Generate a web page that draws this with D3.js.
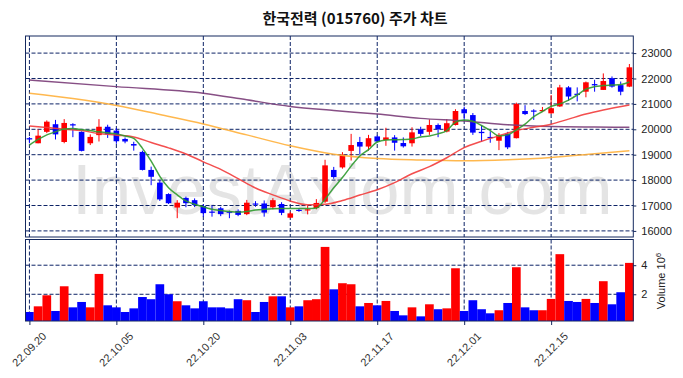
<!DOCTYPE html>
<html>
<head>
<meta charset="utf-8">
<script src="https://cdn.jsdelivr.net/npm/d3@7/dist/d3.min.js"></script>
<style>
body { margin: 0; background: #fff; }
text { font-family: "Liberation Sans", Arial, sans-serif; }
</style>
</head>
<body>
<div id="chart"></div>
<script>
// trading days shown (YY.MM.DD)
const dates = [
  "22.09.20","22.09.21","22.09.22","22.09.23","22.09.26","22.09.27","22.09.28","22.09.29","22.09.30",
  "22.10.04","22.10.05","22.10.06","22.10.07","22.10.11","22.10.12","22.10.13","22.10.14","22.10.17","22.10.18","22.10.19","22.10.20","22.10.21","22.10.24","22.10.25","22.10.26","22.10.27","22.10.28","22.10.31",
  "22.11.01","22.11.02","22.11.03","22.11.04","22.11.07","22.11.08","22.11.09","22.11.10","22.11.11","22.11.14","22.11.15","22.11.16","22.11.17","22.11.18","22.11.21","22.11.22","22.11.23","22.11.24","22.11.25","22.11.28","22.11.29","22.11.30",
  "22.12.01","22.12.02","22.12.05","22.12.06","22.12.07","22.12.08","22.12.09","22.12.12","22.12.13","22.12.14","22.12.15","22.12.16","22.12.19","22.12.20","22.12.21","22.12.22","22.12.23","22.12.26","22.12.27","22.12.28"
];
const opens = [19650,19450,19900,20200,19500,20200,19900,19450,19770,20100,19950,19620,19420,19110,18400,17900,17450,16920,17300,17210,
  16980,16760,16890,16760,16790,16660,17080,17080,16930,17060,16520,16830,16820,16900,17150,18400,18500,19150,19500,19320,
  19720,19580,19680,19460,19450,20000,19900,20170,19910,20170,20790,20560,19900,19700,19550,19820,19650,20720,20740,20720,
  20630,20900,21650,21400,21480,21780,21550,22010,21740,21680];
const highs = [19700,20000,20350,20370,20400,20240,19920,19800,20400,20180,20050,19680,19510,19160,18530,18000,17480,17210,17350,17280,
  17050,17000,16950,16800,16850,17220,17170,17200,17290,17130,16750,16890,17000,17250,18800,18520,19100,19820,19700,19780,
  19760,20060,19770,19680,20080,20100,20390,20230,20400,20790,20890,20640,20160,19920,19850,19900,21050,20950,20790,20880,
  21350,21750,21700,21650,21880,21950,22200,22080,21880,22570];
const lows = [19450,19450,19850,19600,19450,19690,19130,19380,19520,19660,19430,19450,19160,18380,17800,17180,17060,16500,16930,16940,
  16560,16560,16580,16500,16580,16620,16950,16560,16850,16620,16500,16750,16650,16850,17100,18050,18450,18770,19020,19160,
  19480,19350,19160,19280,19320,19730,19780,19690,19880,20150,20370,19780,19510,19470,19180,19220,19640,20560,20370,20680,
  20600,20880,21120,21100,21260,21480,21550,21640,21340,21660];
const closes = [19600,19750,20300,19800,20250,20150,19150,19700,20100,19800,19530,19520,19360,18400,18130,17240,17090,17110,17090,17020,
  16700,16720,16660,16720,16630,17110,17040,16720,17210,16710,16690,16800,16850,17100,18580,18120,19000,19380,19320,19650,
  19520,19680,19470,19330,19880,19820,20170,20000,20240,20720,20630,19870,19850,19680,19780,19290,21000,20600,20720,20760,
  20830,21650,21290,21370,21850,21730,21900,21680,21480,22440];
// volume, millions of shares
const volumes = [0.78,1.17,1.93,0.85,2.55,1.10,1.47,1.10,3.40,1.24,1.10,0.78,1.03,1.81,1.66,2.69,2.00,1.52,1.24,1.03,
  1.52,1.10,1.10,1.03,1.66,1.59,0.78,1.47,1.86,1.86,1.10,1.17,1.59,1.66,5.26,2.34,2.76,2.69,1.17,1.40,
  1.24,1.54,0.85,0.55,1.10,0.48,1.31,0.97,1.03,3.79,0.85,1.59,0.97,0.69,0.90,1.40,3.86,1.10,0.90,0.90,
  1.68,4.76,1.54,1.47,1.68,1.40,2.90,1.31,2.14,4.16];

// moving averages
const ma5 = [19380,19600,19780,19900,20010,20030,19990,19950,19900,19860,19820,19740,19640,19250,18750,18150,17700,17420,17180,17050,
  16950,16850,16800,16760,16740,16760,16820,16850,16870,16880,16880,16880,16880,16900,17250,17700,18100,18550,18950,19200,
  19500,19580,19590,19600,19620,19700,19740,19820,19950,20280,20370,20320,20150,19950,19740,19780,19980,20200,20500,20700,
  20900,21000,21150,21350,21580,21680,21720,21740,21760,21860];
const ma20Idx = [0,2,4,6,8,10,12,14,16,18,20,22,24,26,28,30,32,34,36,38,40,42,44,46,48,50,52,54,56,58,60,62,64,66,69];
const ma20Val = [20130,20070,20000,19950,19830,19770,19700,19480,19270,19030,18720,18420,18060,17690,17420,17180,17030,17050,17200,17410,
  17620,17900,18250,18530,18880,19280,19530,19740,19950,20080,20200,20400,20600,20760,20960];
const ma60Idx = [0,5,10,15,20,25,30,35,40,45,50,55,60,65,69];
const ma60Val = [21420,21210,20940,20580,20210,19780,19350,19020,18850,18790,18760,18800,18890,19040,19160];
const ma120Idx = [0,10,20,25,30,35,40,45,50,55,60,65,69];
const ma120Val = [21940,21680,21420,21160,20900,20740,20600,20430,20330,20180,20110,20090,20080];

const tickDates = ["22.09.20","22.10.05","22.10.20","22.11.03","22.11.17","22.12.01","22.12.15"];
const priceTicks = [16000,17000,18000,19000,20000,21000,22000,23000];
const volTicks = [2,4];

const width = 683, height = 378;
const plotLeft = 25.5, plotRight = 633.3;
const priceTop = 36, priceBottom = 237;
const volTop = 239.5, volBottom = 321;
const gridColor = "#0d2366";
const frameColor = "#14285e";
const upColor = "#ff0000", downColor = "#0000ff";

const svg = d3.select("#chart").append("svg")
  .attr("width", width)
  .attr("height", height);

const x = d3.scalePoint()
  .domain(dates)
  .range([plotLeft, plotRight])
  .padding(0.45);
const step = x.step();

const y = d3.scaleLinear()
  .domain([15760, 23673])
  .range([priceBottom, priceTop]);

const yVol = d3.scaleLinear()
  .domain([0.16, 5.77])
  .range([volBottom, volTop]);

const candles = dates.map((d, i) => ({
  date: d, o: opens[i], h: highs[i], l: lows[i], c: closes[i], v: volumes[i]
}));
const colorOf = d => d.c >= d.o ? upColor : downColor;

// title
svg.append("text")
  .attr("x", 355)
  .attr("y", 24)
  .attr("text-anchor", "middle")
  .style("font-family", "'Noto Sans CJK KR', sans-serif")
  .style("font-size", "15px")
  .style("font-weight", "bold")
  .attr("fill", "#111")
  .text("한국전력 (015760) 주가 차트");

// watermark
svg.append("text")
  .attr("x", 72)
  .attr("y", 214)
  .style("font-size", "71px")
  .attr("fill", "#e4e4e4")
  .text("InvestAxiom.com");

// grid
const grid = svg.append("g")
  .attr("stroke", gridColor)
  .attr("stroke-width", 1)
  .attr("stroke-dasharray", "4,2")
  .attr("fill", "none");

grid.selectAll(".hp")
  .data(priceTicks)
  .join("line")
  .attr("class", "hp")
  .attr("x1", plotLeft).attr("x2", plotRight)
  .attr("y1", d => y(d)).attr("y2", d => y(d));

grid.selectAll(".hv")
  .data(volTicks)
  .join("line")
  .attr("class", "hv")
  .attr("x1", plotLeft).attr("x2", plotRight)
  .attr("y1", d => yVol(d)).attr("y2", d => yVol(d));

grid.selectAll(".vp")
  .data(tickDates)
  .join("line")
  .attr("class", "vp")
  .attr("x1", d => x(d)).attr("x2", d => x(d))
  .attr("y1", priceTop).attr("y2", priceBottom);

grid.selectAll(".vv")
  .data(tickDates)
  .join("line")
  .attr("class", "vv")
  .attr("x1", d => x(d)).attr("x2", d => x(d))
  .attr("y1", volTop).attr("y2", volBottom);

// candles
const bodyW = 5.6;
const cg = svg.append("g");
cg.selectAll(".wick")
  .data(candles)
  .join("line")
  .attr("class", "wick")
  .attr("x1", d => x(d.date)).attr("x2", d => x(d.date))
  .attr("y1", d => y(d.h)).attr("y2", d => y(d.l))
  .attr("stroke", colorOf)
  .attr("stroke-width", 1);

cg.selectAll(".body")
  .data(candles)
  .join("rect")
  .attr("class", "body")
  .attr("x", d => x(d.date) - bodyW / 2)
  .attr("width", bodyW)
  .attr("y", d => y(Math.max(d.o, d.c)))
  .attr("height", d => Math.max(1.2, Math.abs(y(d.o) - y(d.c))))
  .attr("fill", colorOf);

// moving averages
const line = d3.line()
  .x(d => x(dates[d[0]]))
  .y(d => y(d[1]))
  .curve(d3.curveMonotoneX);

const maSeries = [
  { pts: ma120Idx.map((k, j) => [k, ma120Val[j]]), color: "#7a3c78" },
  { pts: ma60Idx.map((k, j) => [k, ma60Val[j]]), color: "#ffb03b" },
  { pts: ma20Idx.map((k, j) => [k, ma20Val[j]]), color: "#f23c3c" },
  { pts: ma5.map((v, k) => [k, v]), color: "#2f9a2f" }
];
svg.append("g").selectAll("path")
  .data(maSeries)
  .join("path")
  .attr("d", d => line(d.pts))
  .attr("fill", "none")
  .attr("stroke", d => d.color)
  .attr("stroke-width", 1.5)
  .attr("stroke-opacity", 0.9);

// volume bars
svg.append("g").selectAll("rect")
  .data(candles)
  .join("rect")
  .attr("x", d => x(d.date) - step / 2)
  .attr("width", step)
  .attr("y", d => yVol(d.v))
  .attr("height", d => yVol(0.16) - yVol(d.v))
  .attr("fill", colorOf);

// frames
svg.append("rect")
  .attr("x", plotLeft).attr("y", priceTop)
  .attr("width", plotRight - plotLeft).attr("height", priceBottom - priceTop)
  .attr("fill", "none").attr("stroke", frameColor).attr("stroke-width", 1);
svg.append("rect")
  .attr("x", plotLeft).attr("y", volTop)
  .attr("width", plotRight - plotLeft).attr("height", volBottom - volTop)
  .attr("fill", "none").attr("stroke", frameColor).attr("stroke-width", 1);

// right axes
const yAxis = d3.axisRight(y).tickValues(priceTicks).tickSize(3).tickPadding(5).tickFormat(d3.format("d"));
const gy = svg.append("g")
  .attr("transform", `translate(${plotRight},0)`)
  .call(yAxis);
gy.select(".domain").remove();

const vAxis = d3.axisRight(yVol).tickValues(volTicks).tickSize(3).tickPadding(5).tickFormat(d3.format("d"));
const gv = svg.append("g")
  .attr("transform", `translate(${plotRight},0)`)
  .call(vAxis);
gv.select(".domain").remove();

svg.selectAll(".tick line").attr("stroke", frameColor);
svg.selectAll(".tick text")
  .style("font-family", "'Liberation Sans', Arial, sans-serif")
  .style("font-size", "11px")
  .attr("fill", "#222");

// volume axis label
const vl = svg.append("text")
  .attr("transform", "translate(665,281) rotate(-90)")
  .attr("text-anchor", "middle")
  .style("font-size", "11px")
  .attr("fill", "#222");
vl.append("tspan").text("Volume  10");
vl.append("tspan").attr("dy", -4).style("font-size", "8px").text("6");

// bottom axis
const xAxis = d3.axisBottom(x).tickValues(tickDates).tickSize(4).tickFormat(d => d);
const gx = svg.append("g")
  .attr("transform", `translate(0,${volBottom})`)
  .call(xAxis);
gx.select(".domain").remove();
gx.selectAll(".tick line").attr("stroke", frameColor);
gx.selectAll(".tick text")
  .attr("y", 0).attr("dy", null)
  .attr("text-anchor", "middle")
  .attr("dominant-baseline", "middle")
  .attr("transform", "translate(0,29) rotate(-45)")
  .style("font-size", "11px")
  .attr("fill", "#333");
</script>
</body>
</html>
